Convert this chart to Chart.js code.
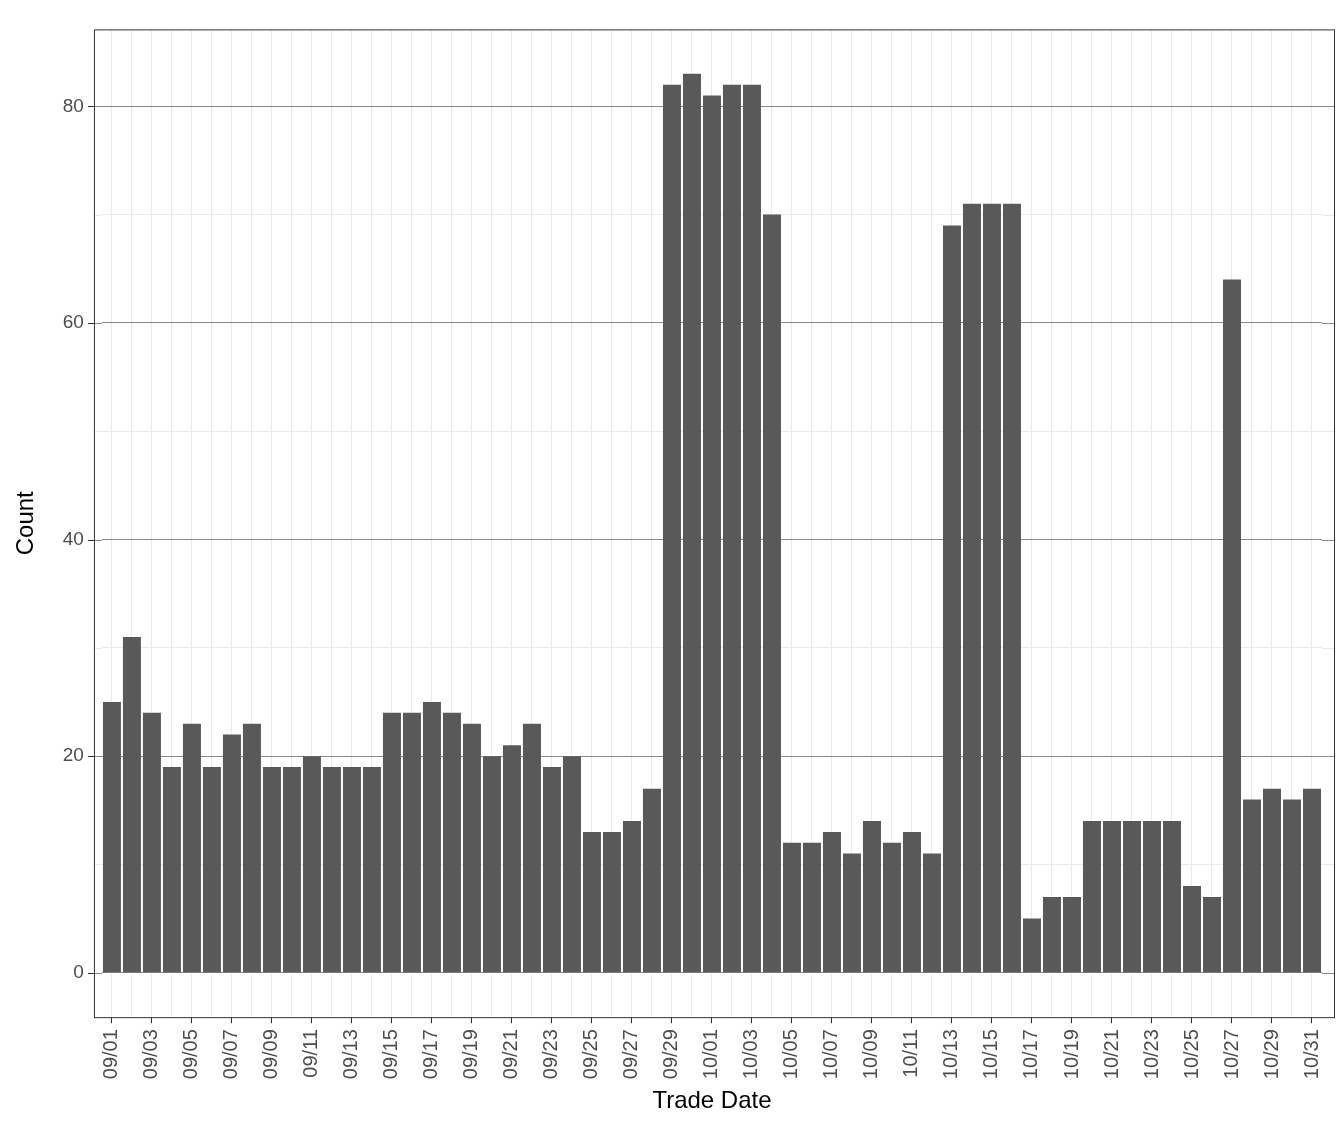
<!DOCTYPE html>
<html>
<head>
<meta charset="utf-8">
<script src="https://cdn.jsdelivr.net/npm/chart.js@4/dist/chart.umd.min.js"></script>
<style>
  html, body { margin: 0; padding: 0; background: #fff; }
  #wrap { width: 1344px; height: 1142px; }
</style>
</head>
<body>
<div id="wrap"><canvas id="chart"></canvas></div>
<script>
// trade dates 09/01 .. 10/31
const sepDays = []
for (let d = 1; d <= 30; d++) sepDays.push('09/' + String(d).padStart(2, '0'))
const octDays = []
for (let d = 1; d <= 31; d++) octDays.push('10/' + String(d).padStart(2, '0'))
const tradeDates = sepDays.concat(octDays)

const sepCounts = [25, 31, 24, 19, 23, 19, 22, 23, 19, 19, 20, 19, 19, 19, 24,
                   24, 25, 24, 23, 20, 21, 23, 19, 20, 13, 13, 14, 17, 82, 83]
const octCounts = [81, 82, 82, 70, 12, 12, 13, 11, 14, 12, 13, 11, 69, 71, 71,
                   71, 5, 7, 7, 14, 14, 14, 14, 14, 8, 7, 64, 16, 17, 16, 17]
const counts = sepCounts.concat(octCounts)

const yTicks = [0, 10, 20, 30, 40, 50, 60, 70, 80]
const padL = 8, padR = 12

// ggplot-style panel: grey grid extended past the bars, border, y tick marks
const panelBorder = {
  id: 'panelBorder',
  beforeDatasetsDraw(chart) {
    const { ctx, chartArea: a, scales } = chart
    ctx.save()
    ctx.lineWidth = 1
    yTicks.forEach(v => {
      const y = Math.round(scales.y.getPixelForValue(v)) + 0.5
      ctx.strokeStyle = v % 20 === 0 ? '#8a8a8a' : '#ebebeb'
      ctx.beginPath()
      ctx.moveTo(a.left - padL, y); ctx.lineTo(a.left, y)
      ctx.moveTo(a.right, y); ctx.lineTo(a.right + padR, y)
      ctx.stroke()
    })
    ctx.restore()
  },
  afterDraw(chart) {
    const { ctx, chartArea: a, scales } = chart
    ctx.save()
    ctx.strokeStyle = '#333333'
    ctx.lineWidth = 1
    ctx.strokeRect(a.left - padL + 0.5, a.top + 0.5, a.right - a.left + padL + padR, a.bottom - a.top)
    yTicks.filter(v => v % 20 === 0).forEach(v => {
      const y = Math.round(scales.y.getPixelForValue(v)) + 0.5
      ctx.beginPath()
      ctx.moveTo(a.left - padL - 6, y); ctx.lineTo(a.left - padL, y)
      ctx.stroke()
    })
    ctx.restore()
  }
}

new Chart(document.getElementById('chart'), {
  type: 'bar',
  data: {
    labels: tradeDates,
    datasets: [{
      data: counts,
      backgroundColor: '#595959',
      categoryPercentage: 0.9,
      barPercentage: 1.0
    }]
  },
  options: {
    responsive: true,
    maintainAspectRatio: false,
    animation: false,
    layout: { padding: { top: 14, right: 10 + padR, left: 8, bottom: 22 } },
    plugins: { legend: { display: false }, tooltip: { enabled: false } },
    scales: {
      x: {
        offset: true,
        grid: {
          color: '#ebebeb',
          tickColor: ctx => (ctx.index % 2 === 0 ? '#333333' : 'rgba(0,0,0,0)'),
          tickLength: 6,
          offset: false
        },
        border: { display: false },
        ticks: {
          autoSkip: false,
          maxRotation: 90,
          minRotation: 90,
          padding: 6,
          color: '#4d4d4d',
          font: { family: 'Liberation Sans', size: 20 },
          callback: function (v, i) { return i % 2 === 0 ? this.getLabelForValue(v) : '' }
        },
        title: {
          display: true, text: 'Trade Date', color: '#000',
          font: { family: 'Liberation Sans', size: 24 }, padding: { top: 2 }
        }
      },
      y: {
        min: -4.1,
        max: 87.1,
        afterBuildTicks: axis => { axis.ticks = yTicks.map(v => ({ value: v })) },
        grid: {
          color: ctx => (ctx.tick && ctx.tick.value % 20 === 0 ? '#8a8a8a' : '#ebebeb'),
          drawTicks: false
        },
        border: { display: false },
        ticks: {
          padding: 10 + padL,
          color: '#4d4d4d',
          font: { family: 'Liberation Sans', size: 19 },
          callback: v => (v % 20 === 0 ? String(v) : '')
        },
        title: {
          display: true, text: 'Count', color: '#000',
          font: { family: 'Liberation Sans', size: 24 }
        }
      }
    }
  },
  plugins: [panelBorder]
})
</script>
</body>
</html>
